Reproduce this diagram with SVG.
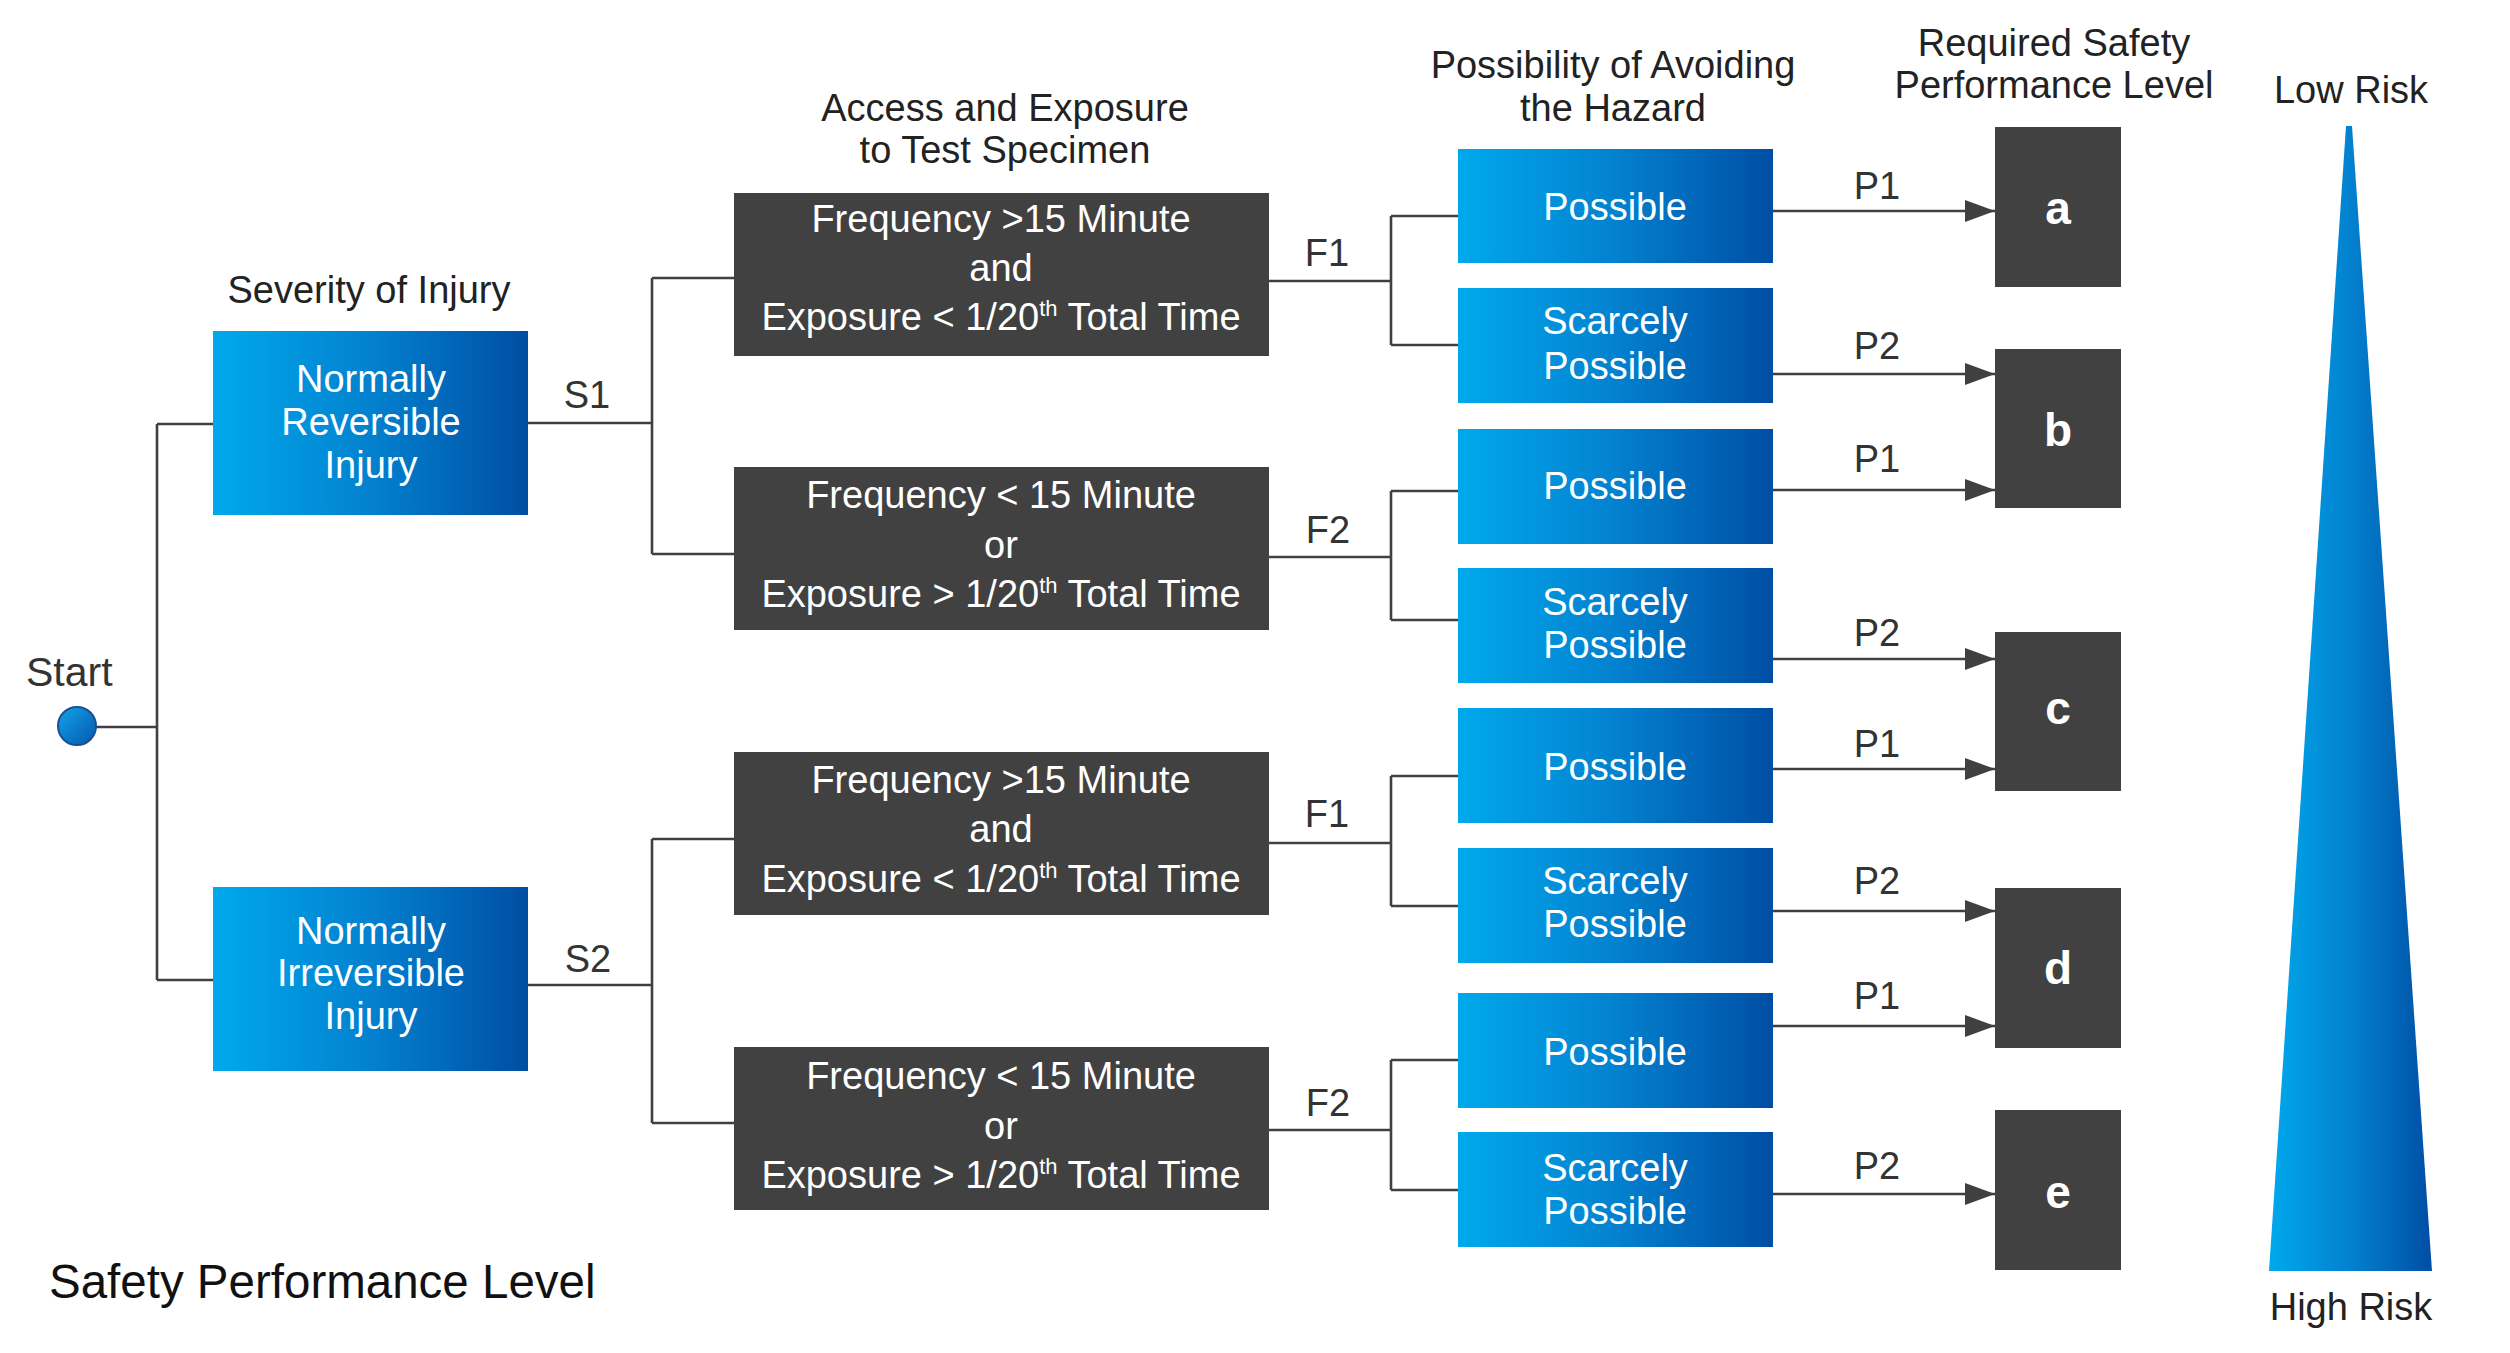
<svg xmlns="http://www.w3.org/2000/svg" width="2510" height="1353" viewBox="0 0 2510 1353">
<defs>
<linearGradient id="blue" x1="0" y1="0" x2="1" y2="0">
<stop offset="0" stop-color="#00a9ec"/>
<stop offset="0.5" stop-color="#0381cf"/>
<stop offset="1" stop-color="#004ea3"/>
</linearGradient>
<linearGradient id="dot" x1="0" y1="0" x2="1" y2="1">
<stop offset="0" stop-color="#14a4ea"/>
<stop offset="1" stop-color="#0358ad"/>
</linearGradient>
<marker id="arr" markerUnits="userSpaceOnUse" markerWidth="32" markerHeight="24" refX="30" refY="11" orient="auto">
<path d="M0,0 L30,11 L0,22 Z" fill="#404040"/>
</marker>
<style>
text{font-family:"Liberation Sans",Arial,sans-serif;}
.t{font-size:38px;fill:#222;text-anchor:middle;}
.lbl{font-size:38px;fill:#333;text-anchor:middle;}
.w{font-size:38px;fill:#fff;text-anchor:middle;}
.wd{font-size:38px;fill:#fff;text-anchor:middle;}
.big{font-size:46px;fill:#fff;text-anchor:middle;font-weight:bold;}
.blue{fill:url(#blue);}
.dark{fill:#414141;}
.ln{stroke:#404040;stroke-width:2.6;fill:none;}
.ar{stroke:#404040;stroke-width:2.6;fill:none;marker-end:url(#arr);}
</style>
</defs>
<rect width="2510" height="1353" fill="#fff"/>

<g id="titles">
<text class="t" x="369" y="303">Severity of Injury</text>
<text class="t" x="1005" y="121">Access and Exposure</text>
<text class="t" x="1005" y="163">to Test Specimen</text>
<text class="t" x="1613" y="78">Possibility of Avoiding</text>
<text class="t" x="1613" y="121">the Hazard</text>
<text class="t" x="2054" y="56">Required Safety</text>
<text class="t" x="2054" y="98">Performance Level</text>
<text class="t" x="2351" y="103">Low Risk</text>
<text class="t" x="2351" y="1320">High Risk</text>
<text x="49" y="1298" style="font-size:47.5px;fill:#111;">Safety Performance Level</text>
</g>

<g id="connectors">
<path class="ln" d="M96,727 H157 M157,424 V980 M157,424 H213 M157,980 H213"/>
<path class="ln" d="M528,423 H652 M652,278 V554 M652,278 H734 M652,554 H734"/>
<path class="ln" d="M528,985 H652 M652,839 V1123 M652,839 H734 M652,1123 H734"/>
<path class="ln" d="M1269,281 H1391 M1391,216 V345 M1391,216 H1458 M1391,345 H1458"/>
<path class="ln" d="M1269,557 H1391 M1391,491 V620 M1391,491 H1458 M1391,620 H1458"/>
<path class="ln" d="M1269,843 H1391 M1391,776 V906 M1391,776 H1458 M1391,906 H1458"/>
<path class="ln" d="M1269,1130 H1391 M1391,1060 V1190 M1391,1060 H1458 M1391,1190 H1458"/>
<line class="ar" x1="1773" y1="211" x2="1995" y2="211"/>
<line class="ar" x1="1773" y1="374" x2="1995" y2="374"/>
<line class="ar" x1="1773" y1="490" x2="1995" y2="490"/>
<line class="ar" x1="1773" y1="659" x2="1995" y2="659"/>
<line class="ar" x1="1773" y1="769" x2="1995" y2="769"/>
<line class="ar" x1="1773" y1="911" x2="1995" y2="911"/>
<line class="ar" x1="1773" y1="1026" x2="1995" y2="1026"/>
<line class="ar" x1="1773" y1="1194" x2="1995" y2="1194"/>
<text class="lbl" x="587" y="408">S1</text>
<text class="lbl" x="588" y="972">S2</text>
<text class="lbl" x="1327" y="266">F1</text>
<text class="lbl" x="1328" y="543">F2</text>
<text class="lbl" x="1327" y="827">F1</text>
<text class="lbl" x="1328" y="1116">F2</text>
<text class="lbl" x="1877" y="199">P1</text>
<text class="lbl" x="1877" y="359">P2</text>
<text class="lbl" x="1877" y="472">P1</text>
<text class="lbl" x="1877" y="646">P2</text>
<text class="lbl" x="1877" y="757">P1</text>
<text class="lbl" x="1877" y="894">P2</text>
<text class="lbl" x="1877" y="1009">P1</text>
<text class="lbl" x="1877" y="1179">P2</text>
</g>

<g id="start">
<circle cx="77" cy="726" r="19" fill="url(#dot)" stroke="#1c4f8f" stroke-width="2"/>
<text x="26" y="686" style="font-size:41px;fill:#333;">Start</text>
</g>

<g id="sev-s1">
<rect class="blue" x="213" y="331" width="315" height="184"/>
<text class="w" x="371" y="392">Normally</text>
<text class="w" x="371" y="435">Reversible</text>
<text class="w" x="371" y="478">Injury</text>
</g>
<g id="sev-s2">
<rect class="blue" x="213" y="887" width="315" height="184"/>
<text class="w" x="371" y="944">Normally</text>
<text class="w" x="371" y="986">Irreversible</text>
<text class="w" x="371" y="1029">Injury</text>
</g>

<g id="s1-f1">
<rect class="dark" x="734" y="193" width="535" height="163"/>
<text class="wd" x="1001" y="232">Frequency &gt;15 Minute</text>
<text class="wd" x="1001" y="281">and</text>
<text class="wd" x="1001" y="330">Exposure &lt; 1/20<tspan font-size="22" dy="-14">th</tspan><tspan dy="14"> Total Time</tspan></text>
</g>
<g id="s1-f2">
<rect class="dark" x="734" y="467" width="535" height="163"/>
<text class="wd" x="1001" y="508">Frequency &lt; 15 Minute</text>
<text class="wd" x="1001" y="558">or</text>
<text class="wd" x="1001" y="607">Exposure &gt; 1/20<tspan font-size="22" dy="-14">th</tspan><tspan dy="14"> Total Time</tspan></text>
</g>
<g id="s2-f1">
<rect class="dark" x="734" y="752" width="535" height="163"/>
<text class="wd" x="1001" y="793">Frequency &gt;15 Minute</text>
<text class="wd" x="1001" y="842">and</text>
<text class="wd" x="1001" y="892">Exposure &lt; 1/20<tspan font-size="22" dy="-14">th</tspan><tspan dy="14"> Total Time</tspan></text>
</g>
<g id="s2-f2">
<rect class="dark" x="734" y="1047" width="535" height="163"/>
<text class="wd" x="1001" y="1089">Frequency &lt; 15 Minute</text>
<text class="wd" x="1001" y="1139">or</text>
<text class="wd" x="1001" y="1188">Exposure &gt; 1/20<tspan font-size="22" dy="-14">th</tspan><tspan dy="14"> Total Time</tspan></text>
</g>

<g id="p-a"><rect class="blue" x="1458" y="149" width="315" height="114"/><text class="w" x="1615" y="220">Possible</text></g>
<g id="p-b"><rect class="blue" x="1458" y="288" width="315" height="115"/><text class="w" x="1615" y="334">Scarcely</text><text class="w" x="1615" y="379">Possible</text></g>
<g id="p-c"><rect class="blue" x="1458" y="429" width="315" height="115"/><text class="w" x="1615" y="499">Possible</text></g>
<g id="p-d"><rect class="blue" x="1458" y="568" width="315" height="115"/><text class="w" x="1615" y="615">Scarcely</text><text class="w" x="1615" y="658">Possible</text></g>
<g id="p-e"><rect class="blue" x="1458" y="708" width="315" height="115"/><text class="w" x="1615" y="780">Possible</text></g>
<g id="p-f"><rect class="blue" x="1458" y="848" width="315" height="115"/><text class="w" x="1615" y="894">Scarcely</text><text class="w" x="1615" y="937">Possible</text></g>
<g id="p-g"><rect class="blue" x="1458" y="993" width="315" height="115"/><text class="w" x="1615" y="1065">Possible</text></g>
<g id="p-h"><rect class="blue" x="1458" y="1132" width="315" height="115"/><text class="w" x="1615" y="1181">Scarcely</text><text class="w" x="1615" y="1224">Possible</text></g>

<g id="pl-a"><rect class="dark" x="1995" y="127" width="126" height="160"/><text class="big" x="2058" y="224">a</text></g>
<g id="pl-b"><rect class="dark" x="1995" y="349" width="126" height="159"/><text class="big" x="2058" y="446">b</text></g>
<g id="pl-c"><rect class="dark" x="1995" y="632" width="126" height="159"/><text class="big" x="2058" y="724">c</text></g>
<g id="pl-d"><rect class="dark" x="1995" y="888" width="126" height="160"/><text class="big" x="2058" y="984">d</text></g>
<g id="pl-e"><rect class="dark" x="1995" y="1110" width="126" height="160"/><text class="big" x="2058" y="1208">e</text></g>

<g id="risk">
<polygon points="2346,126 2352,126 2432,1271 2269,1271" fill="url(#blue)"/>
</g>
</svg>
